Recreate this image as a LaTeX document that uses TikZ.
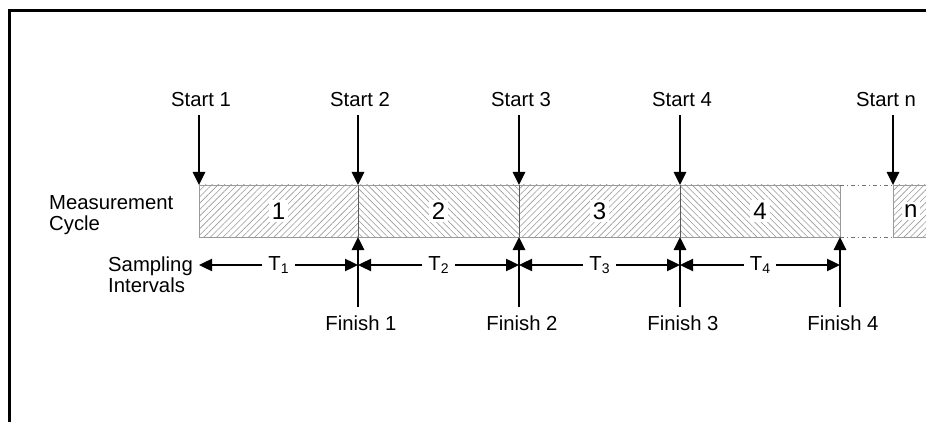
\documentclass[tikz,border=0pt]{standalone}
\usepackage{fontspec}
\setmainfont{Liberation Sans}
\usetikzlibrary{arrows.meta,patterns.meta}
\tikzset{
  lbl/.style={font=\fontsize{20.3}{21}\selectfont, inner sep=3pt},
  arr/.style={line width=2.6pt, -{Triangle[length=13pt,width=12pt]}},
  dimarr/.style={line width=2.4pt, {Triangle[length=13pt,width=12pt]}-{Triangle[length=13pt,width=12pt]}},
  hatchA/.style={pattern={Lines[angle=45,distance=4.5pt,line width=0.6pt]}, pattern color=black!40},
  hatchB/.style={pattern={Lines[angle=-45,distance=4.5pt,line width=0.6pt]}, pattern color=black!40},
  seg/.style={draw=black!40, line width=0.8pt, minimum height=52pt, anchor=north west, inner sep=0pt, outer sep=0pt},
  divider/.style={draw=black!65, line width=0.8pt},
  gapline/.style={draw=black!55, line width=0.9pt, dash pattern=on 4pt off 3pt on 1pt off 3pt},
  num/.style={fill=white, font=\fontsize{24}{24}\selectfont, inner sep=3pt},
  tlabel/.style={lbl, fill=white, inner xsep=6pt, inner ysep=1pt},
  frame/.style={line width=3pt},
}
\newcommand{\Tsub}[1]{T\raisebox{-3pt}{\fontsize{14}{14}\selectfont #1}}
\begin{document}
\begin{tikzpicture}[x=1pt,y=-1pt]
\useasboundingbox (0,0) rectangle (926,422);
% frame
\draw[frame] (9,422) -- (9,11) -- (926,11);

% segments
\node[seg, hatchA, minimum width=159pt] (seg1) at (199,185) {};
\node[seg, hatchB, minimum width=161pt] (seg2) at (358,185) {};
\node[seg, hatchA, minimum width=161pt] (seg3) at (519,185) {};
\node[seg, hatchB, minimum width=160pt] (seg4) at (680,185) {};
\node[seg, hatchA, draw=none, minimum width=36pt] (segn) at (893,185) {};
\draw[draw=black!40, line width=0.8pt] (segn.north east) -- (segn.north west) -- (segn.south west) -- (segn.south east);
\draw[gapline] (seg4.north east) -- (segn.north west);
\draw[gapline] (seg4.south east) -- (segn.south west);
\draw[divider] (seg1.north east) -- (seg1.south east);
\draw[divider] (seg2.north east) -- (seg2.south east);
\draw[divider] (seg3.north east) -- (seg3.south east);

\node[num] (n1) at (seg1.center) {1};
\node[num] (n2) at (seg2.center) {2};
\node[num] (n3) at (seg3.center) {3};
\node[num] (n4) at (seg4.center) {4};
\node[num, anchor=west, inner xsep=2pt] (nn) at (902,211) {n};

% left labels
\node[lbl, anchor=west, align=left] (mc) at (46,215) {Measurement\\Cycle};
\node[lbl, anchor=west, align=left] (si) at (105,275) {Sampling\\Intervals};

% start labels and arrows
\node[lbl] (s1) at (201,100) {Start 1};
\node[lbl] (s2) at (360,100) {Start 2};
\node[lbl] (s3) at (521,100) {Start 3};
\node[lbl] (s4) at (682,100) {Start 4};
\node[lbl] (sn) at (886,100) {Start n};
\draw[arr, shorten <=5pt] (s1.south -| seg1.north west) -- (seg1.north west);
\draw[arr, shorten <=5pt] (s2.south -| seg2.north west) -- (seg2.north west);
\draw[arr, shorten <=5pt] (s3.south -| seg3.north west) -- (seg3.north west);
\draw[arr, shorten <=5pt] (s4.south -| seg4.north west) -- (seg4.north west);
\draw[arr, shorten <=5pt] (sn.south -| segn.north west) -- (segn.north west);

% finish labels and arrows
\node[lbl] (f1) at (361,323) {Finish 1};
\node[lbl] (f2) at (522,323) {Finish 2};
\node[lbl] (f3) at (683,323) {Finish 3};
\node[lbl] (f4) at (843,323) {Finish 4};
\draw[arr, shorten <=5pt] (f1.north -| seg1.south east) -- (seg1.south east);
\draw[arr, shorten <=5pt] (f2.north -| seg2.south east) -- (seg2.south east);
\draw[arr, shorten <=5pt] (f3.north -| seg3.south east) -- (seg3.south east);
\draw[arr, shorten <=5pt] (f4.north -| seg4.south east) -- (seg4.south east);

% sampling intervals
\coordinate (p0) at (199,265);
\coordinate (p1) at (358,265);
\coordinate (p2) at (519,265);
\coordinate (p3) at (680,265);
\coordinate (p4) at (840,265);
\draw[dimarr] (p0) -- node[tlabel] (t1) {\Tsub{1}} (p1);
\draw[dimarr] (p1) -- node[tlabel] (t2) {\Tsub{2}} (p2);
\draw[dimarr] (p2) -- node[tlabel] (t3) {\Tsub{3}} (p3);
\draw[dimarr] (p3) -- node[tlabel] (t4) {\Tsub{4}} (p4);
\end{tikzpicture}
\end{document}
